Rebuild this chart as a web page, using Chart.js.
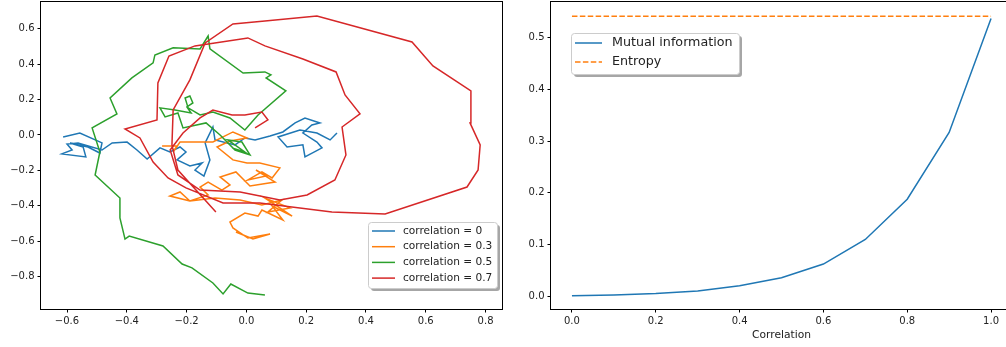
<!DOCTYPE html>
<html>
<head>
<meta charset="utf-8">
<script src="https://cdn.jsdelivr.net/npm/chart.js@4.4.0/dist/chart.umd.min.js"></script>
<style>
  html, body { margin: 0; padding: 0; background: #fff; overflow: hidden; width: 1006px; height: 347px; }
  #walkChart { position: absolute; left: 0; top: 0; }
  #infoChart { position: absolute; left: 505px; top: 0; }
</style>
</head>
<body>
<canvas id="walkChart" width="520" height="347"></canvas>
<canvas id="infoChart" width="525" height="347"></canvas>
<script>
// Left panel: tick labels
const walkXTicks = [-0.6, -0.4, -0.2, 0.0, 0.2, 0.4, 0.6, 0.8];
const walkYTicks = [-0.8, -0.6, -0.4, -0.2, 0.0, 0.2, 0.4, 0.6];

// Left panel: trajectories
const walkLabels = ['correlation = 0', 'correlation = 0.3', 'correlation = 0.5', 'correlation = 0.7'];

const blueX = [-0.613, -0.557, -0.483, -0.490, -0.530, -0.590, -0.546, -0.537, -0.617, -0.583, -0.600, -0.563, -0.483, -0.449, -0.399, -0.366, -0.332, -0.289, -0.256, -0.222, -0.202, -0.232, -0.189, -0.148, -0.172, -0.142, -0.122, -0.138, -0.112, -0.105, -0.038, -0.005, 0.029, 0.079, 0.122, 0.163, 0.196, 0.246, 0.219, 0.189, 0.236, 0.253, 0.196, 0.189, 0.136, 0.106, 0.179, 0.236, 0.280, 0.303];
const blueY = [-0.011, 0.011, -0.045, -0.102, -0.068, -0.045, -0.068, -0.124, -0.107, -0.085, -0.051, -0.045, -0.085, -0.045, -0.040, -0.085, -0.136, -0.073, -0.096, -0.068, -0.096, -0.141, -0.175, -0.158, -0.198, -0.232, -0.141, -0.045, 0.045, -0.028, -0.056, -0.017, -0.028, -0.006, 0.017, 0.068, 0.096, 0.068, 0.056, 0.011, -0.040, -0.073, -0.124, -0.056, -0.068, -0.011, 0.028, 0.011, -0.028, 0.011];

const orangeX = [-0.282, -0.232, -0.245, -0.222, -0.112, -0.045, 0.002, -0.055, -0.098, -0.045, 0.002, 0.045, 0.112, 0.086, 0.052, 0.005, 0.066, 0.032, 0.096, 0.012, -0.035, -0.088, -0.055, -0.082, -0.128, -0.155, -0.128, -0.189, -0.222, -0.256, -0.189, -0.105, -0.021, 0.052, 0.119, 0.072, 0.146, 0.062, 0.153, 0.086, 0.122, 0.052, 0.039, -0.005, -0.055, -0.045, 0.005, 0.079, 0.022, -0.035];
const orangeY = [-0.062, -0.062, -0.096, -0.040, -0.040, 0.017, -0.017, -0.034, -0.068, -0.141, -0.158, -0.158, -0.186, -0.243, -0.209, -0.254, -0.232, -0.198, -0.266, -0.288, -0.209, -0.237, -0.282, -0.311, -0.266, -0.294, -0.339, -0.373, -0.322, -0.345, -0.373, -0.356, -0.367, -0.395, -0.367, -0.435, -0.412, -0.356, -0.458, -0.401, -0.480, -0.424, -0.458, -0.441, -0.492, -0.525, -0.582, -0.559, -0.588, -0.548];

const greenX = [-0.048, -0.005, -0.062, -0.015, 0.012, -0.038, -0.088, -0.135, -0.212, -0.229, -0.272, -0.289, -0.239, -0.185, -0.199, -0.179, -0.189, -0.205, -0.195, -0.155, -0.112, -0.055, -0.005, 0.039, 0.132, 0.066, 0.082, 0.062, -0.011, -0.122, -0.128, -0.155, -0.245, -0.306, -0.312, -0.383, -0.456, -0.433, -0.516, -0.490, -0.506, -0.423, -0.423, -0.406, -0.392, -0.279, -0.215, -0.182, -0.112, -0.078, -0.052, 0.005, 0.062];
const greenY = [-0.073, -0.096, -0.028, -0.040, -0.113, -0.085, 0.000, 0.068, 0.040, 0.124, 0.102, 0.153, 0.141, 0.124, 0.158, 0.181, 0.220, 0.209, 0.153, 0.113, 0.130, 0.096, 0.028, 0.113, 0.249, 0.322, 0.339, 0.356, 0.350, 0.486, 0.559, 0.486, 0.492, 0.452, 0.407, 0.322, 0.209, 0.119, 0.040, -0.096, -0.226, -0.356, -0.469, -0.588, -0.571, -0.627, -0.729, -0.751, -0.836, -0.898, -0.842, -0.893, -0.904];

const redX = [0.029, 0.072, 0.052, -0.005, -0.048, -0.112, -0.155, -0.212, -0.255, -0.229, -0.155, -0.021, 0.112, 0.203, 0.296, 0.333, 0.320, 0.380, 0.330, 0.300, 0.189, 0.062, 0.005, -0.172, -0.259, -0.296, -0.299, -0.406, -0.356, -0.312, -0.262, -0.202, -0.078, 0.045, 0.286, 0.464, 0.738, 0.775, 0.782, 0.748, 0.751, 0.624, 0.554, 0.236, 0.062, -0.045, -0.138, -0.189, -0.245, -0.249, -0.229, -0.102];
const redY = [0.040, 0.085, 0.130, 0.113, 0.113, 0.141, 0.096, 0.011, -0.085, -0.226, -0.311, -0.322, -0.367, -0.339, -0.254, -0.113, 0.045, 0.119, 0.226, 0.356, 0.429, 0.503, 0.548, 0.503, 0.446, 0.294, 0.085, 0.034, -0.017, -0.153, -0.243, -0.299, -0.384, -0.384, -0.435, -0.446, -0.294, -0.198, -0.056, 0.068, 0.249, 0.390, 0.525, 0.672, 0.644, 0.627, 0.520, 0.311, 0.141, -0.056, -0.198, -0.435];

// Right panel
const corrTicks = [0.0, 0.2, 0.4, 0.6, 0.8, 1.0];
const infoTicks = [0.0, 0.1, 0.2, 0.3, 0.4, 0.5];
const correlations = [0.0, 0.1, 0.2, 0.3, 0.4, 0.5, 0.6, 0.7, 0.8, 0.9, 1.0];
const mutualInfo = [0.0005, 0.002, 0.005, 0.010, 0.020, 0.0355, 0.062, 0.1095, 0.1875, 0.3165, 0.537];
const entropyX = [0.0, 1.0];
const entropyY = [0.5415, 0.5415];

const colors = ['#1f77b4', '#ff7f0e', '#2ca02c', '#d62728'];
const FONT = 'DejaVu Sans';

function toPoints(xs, ys) {
  return xs.map((x, i) => ({ x, y: ys[i] }));
}

function fmt(v) {
  return v.toFixed(1).replace('-', '\u2212');
}

// Box around the plot area, like matplotlib spines
const framePlugin = {
  id: 'frame',
  afterDatasetsDraw(chart) {
    const { ctx, chartArea: a } = chart;
    ctx.save();
    ctx.strokeStyle = '#000';
    ctx.lineWidth = 1;
    ctx.strokeRect(Math.round(a.left) - 0.5, Math.round(a.top) - 0.5,
      Math.round(a.right - a.left) + 1, Math.round(a.bottom - a.top) + 1);
    ctx.restore();
  }
};

// Legend box with shadow
const boxLegend = {
  id: 'boxLegend',
  afterDraw(chart, args, opts) {
    const ctx = chart.ctx;
    const { x, y, w, h, firstRow, rowGap, lineX, lineLen, textX, fontSize } = opts;
    ctx.save();
    ctx.fillStyle = 'rgba(0,0,0,0.35)';
    roundRect(ctx, x + 3, y + 3, w, h, 3);
    ctx.fill();
    ctx.fillStyle = '#fff';
    ctx.strokeStyle = '#cccccc';
    ctx.lineWidth = 1;
    roundRect(ctx, x + 0.5, y + 0.5, w, h, 3);
    ctx.fill();
    ctx.stroke();
    ctx.font = fontSize + 'px "' + FONT + '"';
    ctx.textBaseline = 'middle';
    chart.data.datasets.forEach((ds, i) => {
      const ry = y + firstRow + i * rowGap;
      ctx.strokeStyle = ds.borderColor;
      ctx.lineWidth = 1.5;
      ctx.setLineDash(ds.borderDash || []);
      ctx.beginPath();
      ctx.moveTo(x + lineX, ry);
      ctx.lineTo(x + lineX + lineLen, ry);
      ctx.stroke();
      ctx.setLineDash([]);
      ctx.fillStyle = '#222';
      ctx.fillText(ds.label, x + textX, ry);
    });
    ctx.restore();
  }
};

function roundRect(ctx, x, y, w, h, r) {
  ctx.beginPath();
  ctx.moveTo(x + r, y);
  ctx.lineTo(x + w - r, y);
  ctx.quadraticCurveTo(x + w, y, x + w, y + r);
  ctx.lineTo(x + w, y + h - r);
  ctx.quadraticCurveTo(x + w, y + h, x + w - r, y + h);
  ctx.lineTo(x + r, y + h);
  ctx.quadraticCurveTo(x, y + h, x, y + h - r);
  ctx.lineTo(x, y + r);
  ctx.quadraticCurveTo(x, y, x + r, y);
  ctx.closePath();
}

function axis(min, max, tickValues, fitSize, horizontal, title) {
  const a = {
    type: 'linear',
    min, max,
    grid: { drawOnChartArea: false, drawTicks: true, tickLength: 3.5, color: '#000', tickWidth: 1 },
    border: { display: false },
    ticks: {
      color: '#222',
      padding: 3,
      font: { family: FONT, size: 10 },
      callback: v => fmt(v),
      maxRotation: 0,
      autoSkip: false
    },
    afterBuildTicks: scale => { scale.ticks = tickValues.map(v => ({ value: v })); }
  };
  if (horizontal) {
    a.afterFit = scale => {
      scale.height = fitSize;
      scale.paddingLeft = 0;
      scale.paddingRight = 0;
    };
  } else {
    a.afterFit = scale => {
      scale.width = fitSize;
      scale.paddingTop = 0;
      scale.paddingBottom = 0;
    };
  }
  if (title) {
    a.title = { display: true, text: title, color: '#222', font: { family: FONT, size: 10.7 }, padding: 5 };
  }
  return a;
}

Chart.defaults.font.family = FONT;

const walkSeries = [[blueX, blueY], [orangeX, orangeY], [greenX, greenY], [redX, redY]];

new Chart(document.getElementById('walkChart'), {
  type: 'scatter',
  data: {
    datasets: walkSeries.map((s, i) => ({
      label: walkLabels[i],
      data: toPoints(s[0], s[1]),
      showLine: true,
      borderColor: colors[i],
      backgroundColor: colors[i],
      borderWidth: 1.5,
      pointRadius: 0,
      tension: 0,
      order: 3 - i
    }))
  },
  options: {
    responsive: false,
    animation: false,
    devicePixelRatio: 1,
    layout: { padding: { top: 2, right: 18, left: 0, bottom: 0 } },
    scales: {
      x: axis(-0.687, 0.855, walkXTicks, 38, true),
      y: axis(-0.983, 0.751, walkYTicks, 41, false)
    },
    plugins: {
      legend: { display: false },
      tooltip: { enabled: false },
      boxLegend: { x: 368, y: 222, w: 129, h: 66, firstRow: 9, rowGap: 15.7, lineX: 4, lineLen: 23, textX: 35, fontSize: 10.6 }
    }
  },
  plugins: [framePlugin, boxLegend]
});

new Chart(document.getElementById('infoChart'), {
  type: 'scatter',
  data: {
    datasets: [
      {
        label: 'Mutual information',
        data: toPoints(correlations, mutualInfo),
        showLine: true,
        borderColor: colors[0],
        borderWidth: 1.5,
        pointRadius: 0,
        order: 1
      },
      {
        label: 'Entropy',
        data: toPoints(entropyX, entropyY),
        showLine: true,
        borderColor: colors[1],
        borderWidth: 1.5,
        borderDash: [5.5, 2.4],
        pointRadius: 0,
        order: 0
      }
    ]
  },
  options: {
    responsive: false,
    animation: false,
    devicePixelRatio: 1,
    layout: { padding: { top: 2, right: 18, left: 0, bottom: 0 } },
    scales: {
      x: axis(-0.05, 1.05, corrTicks, 38, true, 'Correlation'),
      y: axis(-0.025, 0.569, infoTicks, 46, false)
    },
    plugins: {
      legend: { display: false },
      tooltip: { enabled: false },
      boxLegend: { x: 66, y: 33, w: 168, h: 41, firstRow: 10, rowGap: 19, lineX: 4, lineLen: 27, textX: 41, fontSize: 12.7 }
    }
  },
  plugins: [framePlugin, boxLegend]
});
</script>
</body>
</html>
